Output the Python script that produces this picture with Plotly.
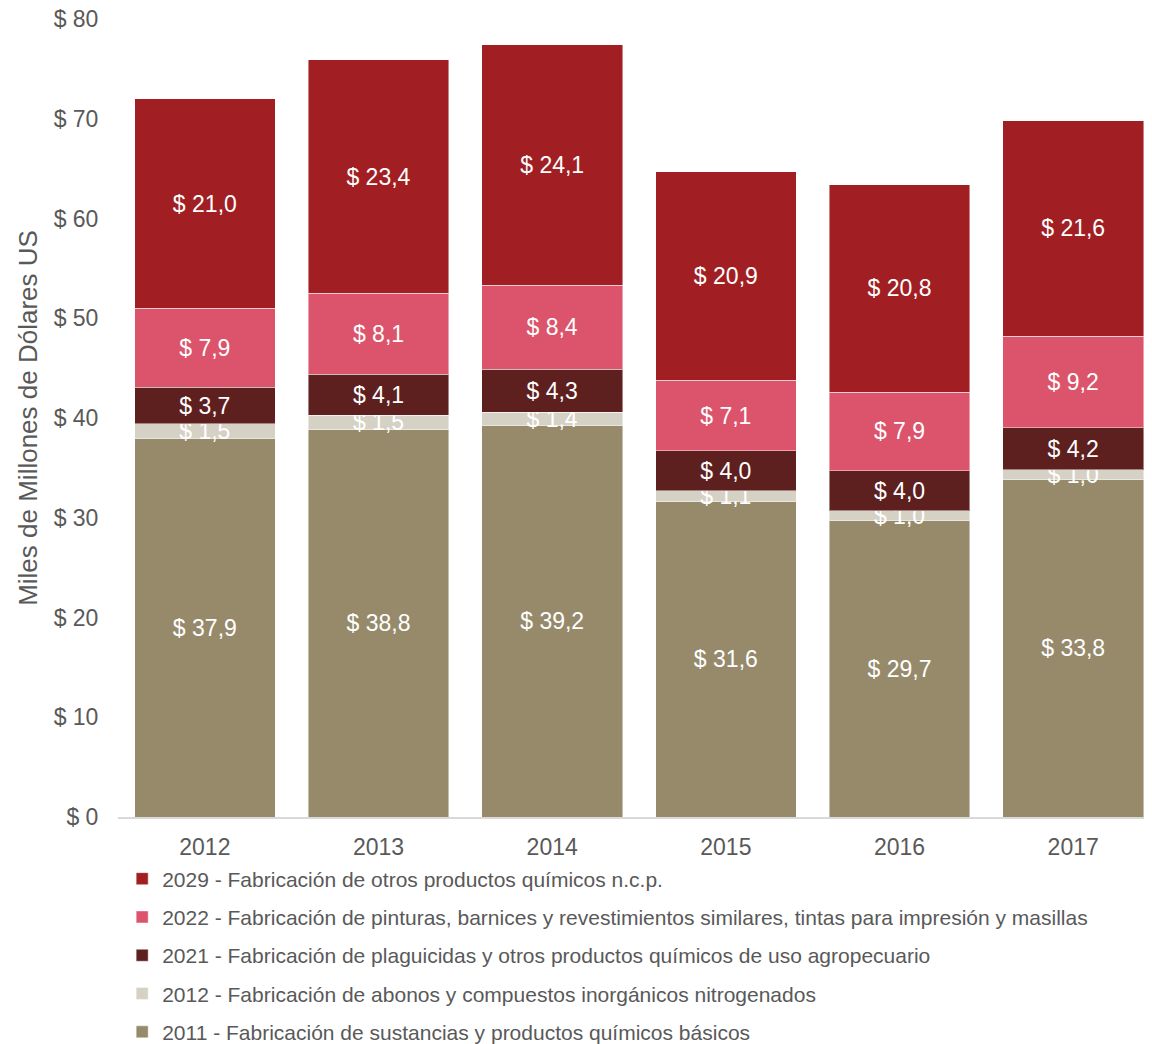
"""Stacked bar chart: chemical manufacturing value by activity, 2012-2017."""

import plotly.graph_objects as go

years = ["2012", "2013", "2014", "2015", "2016", "2017"]

series_names = [
    "2011 - Fabricación de sustancias y productos químicos básicos",
    "2012 - Fabricación de abonos y compuestos inorgánicos nitrogenados",
    "2021 - Fabricación de plaguicidas y otros productos químicos de uso agropecuario",
    "2022 - Fabricación de pinturas, barnices y revestimientos similares, tintas para impresión y masillas",
    "2029 - Fabricación de otros productos químicos n.c.p.",
]

v2011 = [37.9, 38.8, 39.2, 31.6, 29.7, 33.8]
v2012 = [1.5, 1.5, 1.4, 1.1, 1.0, 1.0]
v2021 = [3.7, 4.1, 4.3, 4.0, 4.0, 4.2]
v2022 = [7.9, 8.1, 8.4, 7.1, 7.9, 9.2]
v2029 = [21.0, 23.4, 24.1, 20.9, 20.8, 21.6]

colors = ["#968A6B", "#D5D1C4", "#5E1F1F", "#DB546B", "#A11F22"]

grey = "#595959"
font_family = "Liberation Sans, Arial, sans-serif"

fig = go.Figure()

all_values = [v2011, v2012, v2021, v2022, v2029]
for i, (name, vals) in enumerate(zip(series_names, all_values)):
    fig.add_trace(
        go.Bar(
            x=years,
            y=vals,
            name=name,
            legendgroup=f"g{i}",
            legendrank=len(all_values) - i,
            marker=dict(color=colors[i], line=dict(color="rgba(255,255,255,0.45)", width=1)),
            texttemplate="$ %{y:.1f}",
            textposition="inside",
            insidetextanchor="middle",
            textangle=0,
            insidetextfont=dict(color="white", size=23, family=font_family),
            hovertemplate="%{x}: $ %{y:.1f}<extra></extra>",
        )
    )

fig.update_layout(
    barmode="stack",
    bargap=0.19,
    width=1152,
    height=1044,
    separators=",.",
    paper_bgcolor="white",
    plot_bgcolor="white",
    font=dict(family=font_family, color=grey, size=22),
    margin=dict(l=110, r=0, t=11, b=235, autoexpand=False),
    uniformtext=dict(minsize=23, mode="show"),
    xaxis=dict(
        range=[-0.5, 5.5],
        automargin=False,
        showline=True,
        linecolor="#D9D9D9",
        linewidth=2,
        showgrid=False,
        tickfont=dict(size=23, color=grey),
        ticks="outside",
        ticklen=8,
        tickcolor="rgba(0,0,0,0)",
    ),
    yaxis=dict(
        range=[0, 80],
        dtick=10,
        automargin=False,
        tickprefix="$ ",
        showgrid=False,
        zeroline=False,
        showline=False,
        tickfont=dict(size=23, color=grey),
        ticklabeloverflow="allow",
        ticks="outside",
        ticklen=14,
        tickcolor="rgba(0,0,0,0)",
        title=dict(text="Miles de Millones de Dólares US", font=dict(size=26, color=grey), standoff=8),
    ),
    legend=dict(
        orientation="v",
        traceorder="grouped",
        tracegroupgap=8,
        x=0.004,
        xanchor="left",
        y=-0.052,
        yanchor="top",
        font=dict(size=21, color=grey),
        itemwidth=30,
        bgcolor="rgba(0,0,0,0)",
    ),
)

fig.write_html("out.html")
